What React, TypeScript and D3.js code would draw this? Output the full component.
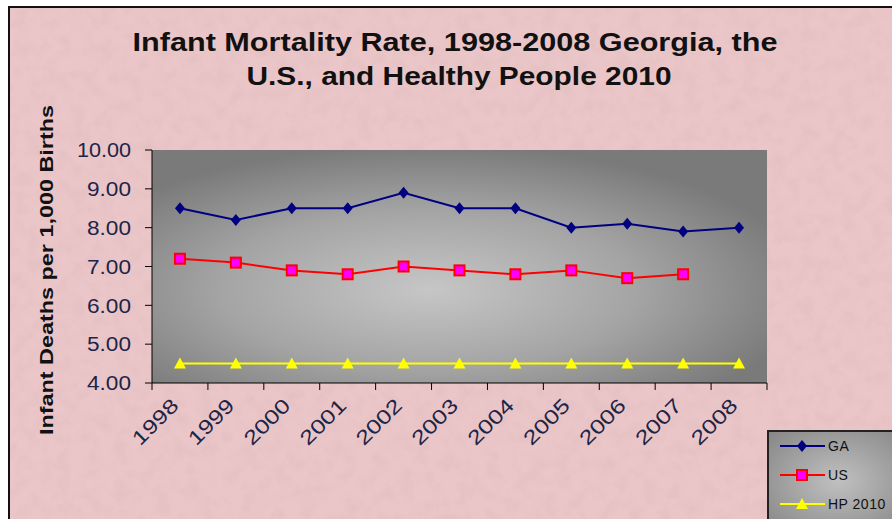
import React from 'react';
import * as d3 from 'd3';

const years = ['1998', '1999', '2000', '2001', '2002', '2003', '2004', '2005', '2006', '2007', '2008'];
const gaValues = [8.5, 8.2, 8.5, 8.5, 8.9, 8.5, 8.5, 8.0, 8.1, 7.9, 8.0];
const usValues = [7.2, 7.1, 6.9, 6.8, 7.0, 6.9, 6.8, 6.9, 6.7, 6.8, null];
const hpValues = [4.5, 4.5, 4.5, 4.5, 4.5, 4.5, 4.5, 4.5, 4.5, 4.5, 4.5];
const yTicks = [4, 5, 6, 7, 8, 9, 10];
const legendNames = ['GA', 'US', 'HP 2010'];

const W = 892, H = 519;
const plot = { left: 152, right: 767, top: 150, bottom: 383 };

const xScale = d3.scaleBand<string>().domain(years).range([plot.left, plot.right]);
const yScale = d3.scaleLinear().domain([4, 10]).range([plot.bottom, plot.top]);

const cx = (y: string) => (xScale(y) as number) + xScale.bandwidth() / 2;

const lineGen = d3.line<[string, number | null]>()
  .defined(d => d[1] != null)
  .x(d => cx(d[0]))
  .y(d => yScale(d[1] as number));

const Diamond = ({ x, y }: { x: number; y: number }) => (
  <path d={`M${x},${y - 6}L${x + 5},${y}L${x},${y + 6}L${x - 5},${y}Z`} fill="#000080" />
);
const Square = ({ x, y }: { x: number; y: number }) => (
  <rect x={x - 5} y={y - 5} width={10} height={10} fill="#ff00ff" stroke="#ff0000" strokeWidth={2} />
);
const Tri = ({ x, y }: { x: number; y: number }) => (
  <path d={`M${x},${y - 6}L${x + 6},${y + 5}L${x - 6},${y + 5}Z`} fill="#ffff00" />
);

const series = [
  { name: legendNames[0], values: gaValues, color: '#000080', M: Diamond },
  { name: legendNames[1], values: usValues, color: '#ff0000', M: Square },
  { name: legendNames[2], values: hpValues, color: '#ffff00', M: Tri },
];

export default function App() {
  const font = '"Liberation Sans", Arial, sans-serif';
  return (
    <svg width={W} height={H} style={{ position: 'absolute', left: 0, top: 0 }} fontFamily={font}>
      <defs>
        <filter id="paper" x="0" y="0" width="100%" height="100%">
          <feTurbulence type="fractalNoise" baseFrequency="0.07" numOctaves={4} seed={5} />
          <feColorMatrix type="matrix" values="0 0 0 0 0.6  0 0 0 0 0.4  0 0 0 0 0.43  0 0 0 1 -0.4" />
        </filter>
        <radialGradient id="plotBg" cx="0.45" cy="0.6" r="0.62">
          <stop offset="0" stopColor="#c6c6c6" />
          <stop offset="0.55" stopColor="#a4a4a4" />
          <stop offset="1" stopColor="#7a7a7a" />
        </radialGradient>
        <radialGradient id="legBg" cx="0.5" cy="0.5" r="0.7">
          <stop offset="0" stopColor="#c0c0c0" />
          <stop offset="1" stopColor="#868686" />
        </radialGradient>
      </defs>
      <rect x={0} y={0} width={W} height={H} fill="#ffffff" />
      <rect x={9} y={7} width={W} height={H} fill="#ebc6c8" stroke="#111" strokeWidth={2} />
      <rect x={10} y={8} width={W} height={H} filter="url(#paper)" opacity={0.4} />

      <text x={455} y={51} textAnchor="middle" fontSize={26} fontWeight="bold" fill="#111"
        textLength={645} lengthAdjust="spacingAndGlyphs">
        Infant Mortality Rate, 1998-2008 Georgia, the
      </text>
      <text x={459} y={85} textAnchor="middle" fontSize={26} fontWeight="bold" fill="#111"
        textLength={425} lengthAdjust="spacingAndGlyphs">
        U.S., and Healthy People 2010
      </text>

      <rect x={plot.left} y={plot.top} width={plot.right - plot.left} height={plot.bottom - plot.top} fill="url(#plotBg)" />

      {/* y axis */}
      <line x1={plot.left} x2={plot.left} y1={plot.top} y2={plot.bottom} stroke="#000" />
      {yTicks.map(t => (
        <g key={t}>
          <line x1={plot.left - 7} x2={plot.left} y1={yScale(t)} y2={yScale(t)} stroke="#000" />
          <text x={131} y={yScale(t)} dy="0.36em" textAnchor="end" fontSize={20} fill="#1c2448"
            textLength={t >= 10 ? 54 : 44} lengthAdjust="spacingAndGlyphs">
            {t.toFixed(2)}
          </text>
        </g>
      ))}
      <text transform={`translate(53,270) rotate(-90)`} textAnchor="middle"
        fontSize={19} fontWeight="bold" fill="#111" textLength={330} lengthAdjust="spacingAndGlyphs">
        Infant Deaths per 1,000 Births
      </text>

      {/* x axis */}
      <line x1={plot.left} x2={plot.right} y1={plot.bottom} y2={plot.bottom} stroke="#000" />
      {[...years.map(y => xScale(y) as number), plot.right].map((x, i) => (
        <line key={i} x1={x} x2={x} y1={plot.bottom} y2={plot.bottom + 7} stroke="#000" />
      ))}
      {years.map(y => (
        <text key={y} transform={`translate(${cx(y) - 10},${plot.bottom + 14}) rotate(-45)`} textAnchor="end"
          dy="0.7em" fontSize={20} fill="#1c2448" textLength={56} lengthAdjust="spacingAndGlyphs">{y}</text>
      ))}

      {series.map(s => {
        const pts = years.map((y, i) => [y, s.values[i]] as [string, number | null]);
        return (
          <g key={s.name}>
            <path d={lineGen(pts) || ''} fill="none" stroke={s.color} strokeWidth={2} />
            {pts.filter(p => p[1] != null).map(p => <s.M key={p[0]} x={cx(p[0])} y={yScale(p[1] as number)} />)}
          </g>
        );
      })}

      {/* legend */}
      <rect x={768} y={431} width={140} height={100} fill="url(#legBg)" stroke="#222" strokeWidth={2} />
      {series.map((s, i) => {
        const ly = 446 + i * 29;
        return (
          <g key={s.name}>
            <line x1={780} x2={825} y1={ly} y2={ly} stroke={s.color} strokeWidth={2} />
            <s.M x={802} y={ly} />
            <text x={828} y={ly} dy="0.36em" fontSize={14} fill="#111" letterSpacing={0.5}>{s.name}</text>
          </g>
        );
      })}
    </svg>
  );
}
